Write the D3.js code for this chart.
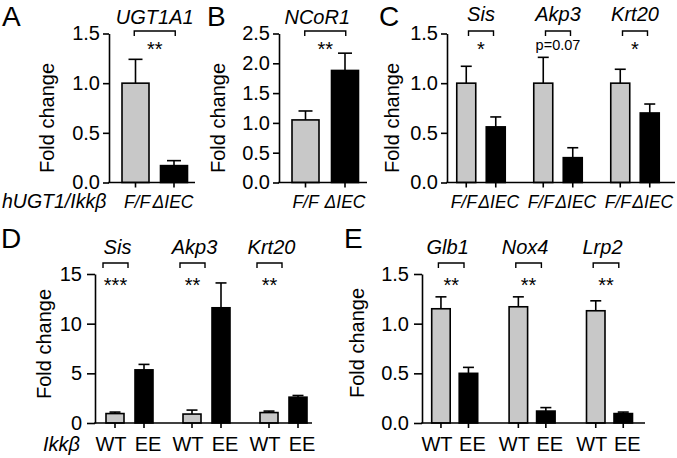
<!DOCTYPE html>
<html><head><meta charset="utf-8">
<script src="https://cdn.jsdelivr.net/npm/d3@7"></script>
<style>
body{margin:0;background:#fff}
svg{display:block}
text{font-family:"Liberation Sans",Arial,Helvetica,sans-serif;fill:#000}
</style>
</head><body>
<svg id="chart" width="677" height="458"></svg>
<script>
// ---------- DATA ----------
// Panel A
const panelAGenes = ["UGT1A1"];
const panelAGroups = ["F/F", "ΔIEC"];
const panelAMeans = [[1.00, 0.17]];
const panelAErrors = [[0.24, 0.05]];
const panelASig = ["**"];
const panelATicks = [0, 0.5, 1.0, 1.5];

// Panel B
const panelBGenes = ["NCoR1"];
const panelBGroups = ["F/F", "ΔIEC"];
const panelBMeans = [[1.05, 1.88]];
const panelBErrors = [[0.15, 0.29]];
const panelBSig = ["**"];
const panelBTicks = [0, 0.5, 1.0, 1.5, 2.0, 2.5];

// Panel C
const panelCGenes = ["Sis", "Akp3", "Krt20"];
const panelCGroups = ["F/F", "ΔIEC"];
const panelCMeans = [[1.00, 0.56], [1.00, 0.25], [1.00, 0.70]];
const panelCErrors = [[0.17, 0.10], [0.26, 0.10], [0.14, 0.09]];
const panelCSig = ["*", "p=0.07", "*"];
const panelCTicks = [0, 0.5, 1.0, 1.5];

// Panel D
const panelDGenes = ["Sis", "Akp3", "Krt20"];
const panelDGroups = ["WT", "EE"];
const panelDMeans = [[0.95, 5.35], [0.90, 11.6], [1.05, 2.60]];
const panelDErrors = [[0.15, 0.55], [0.40, 2.50], [0.15, 0.17]];
const panelDSig = ["***", "**", "**"];
const panelDTicks = [0, 5, 10, 15];

// Panel E
const panelEGenes = ["Glb1", "Nox4", "Lrp2"];
const panelEGroups = ["WT", "EE"];
const panelEMeans = [[1.15, 0.50], [1.17, 0.12], [1.13, 0.095]];
const panelEErrors = [[0.12, 0.06], [0.10, 0.035], [0.10, 0.015]];
const panelESig = ["**", "**", "**"];
const panelETicks = [0, 0.5, 1.0, 1.5];

const rowLabelTop = "hUGT1/Ikkβ";
const rowLabelBottom = "Ikkβ";
const yTitle = "Fold change";

// ---------- DRAW ----------
const svg = d3.select("#chart");
const FILLS = ["#c8c8c8", "#000000"];
const SW = 1.6;

function drawPanel(p) {
  const g = svg.append("g");
  const y = d3.scaleLinear().domain([0, p.yMax]).range([p.y0, p.yTop]);
  const x = d3.scaleBand().domain(p.genes).range([p.start, p.start + p.step * p.genes.length]);
  const sub = d3.scalePoint().domain(p.groups).range([-p.off, p.off]);
  const gc = gene => x(gene) + x.bandwidth() / 2;
  const cx = (gene, grp) => gc(gene) + sub(grp);

  const items = [];
  p.genes.forEach((gene, i) => p.groups.forEach((grp, j) => {
    items.push({gene, grp, j, m: p.means[i][j], e: p.errors[i][j]});
  }));

  // error bars
  const eb = g.append("g").attr("stroke", "#000").attr("stroke-width", SW).attr("fill", "none");
  items.forEach(d => {
    const xc = cx(d.gene, d.grp);
    eb.append("line").attr("x1", xc).attr("x2", xc).attr("y1", y(d.m)).attr("y2", y(d.m + d.e));
    eb.append("line").attr("x1", xc - p.cap / 2).attr("x2", xc + p.cap / 2)
      .attr("y1", y(d.m + d.e)).attr("y2", y(d.m + d.e));
  });

  // bars
  g.append("g").selectAll("rect").data(items).join("rect")
    .attr("x", d => cx(d.gene, d.grp) - p.barW / 2)
    .attr("y", d => y(d.m))
    .attr("width", p.barW)
    .attr("height", d => p.y0 - y(d.m))
    .attr("fill", d => FILLS[d.j])
    .attr("stroke", "#000").attr("stroke-width", SW);

  // y axis
  const ya = g.append("g").attr("transform", `translate(${p.axisX},0)`)
    .call(d3.axisLeft(y).tickValues(p.ticks).tickFormat(d3.format(p.fmt))
      .tickSize(p.tick).tickPadding(p.pad).tickSizeOuter(0));
  ya.selectAll("path,line").attr("stroke", "#000").attr("stroke-width", SW);
  ya.selectAll("text").attr("font-size", p.tickFont)
    .attr("font-family", '"Liberation Sans",Arial,sans-serif').attr("fill", "#000");

  // x axis line and ticks
  g.append("line").attr("x1", p.axisX - SW / 2).attr("x2", p.xEnd).attr("y1", p.y0).attr("y2", p.y0)
    .attr("stroke", "#000").attr("stroke-width", SW);
  items.forEach(d => {
    const xc = cx(d.gene, d.grp);
    g.append("line").attr("x1", xc).attr("x2", xc).attr("y1", p.y0).attr("y2", p.y0 + 5)
      .attr("stroke", "#000").attr("stroke-width", SW);
    g.append("text").attr("x", xc + p.labelShift[d.j]).attr("y", p.labelY).attr("text-anchor", "middle")
      .attr("font-size", p.labelFont).attr("font-style", p.labelItalic ? "italic" : "normal")
      .text(d.grp);
  });

  // gene titles, brackets, significance
  p.genes.forEach((gene, i) => {
    g.append("text").attr("x", gc(gene) + p.titleShift).attr("y", p.titleY)
      .attr("text-anchor", "middle").attr("font-size", p.titleFont).attr("font-style", "italic")
      .text(gene);
    const bc = gc(gene) + p.brShift;
    g.append("path")
      .attr("d", `M${bc - p.brHalf},${p.brY + 5}V${p.brY}H${bc + p.brHalf}V${p.brY + 5}`)
      .attr("fill", "none").attr("stroke", "#000").attr("stroke-width", 1.4);
    const s = p.sig[i];
    const isStar = /^\*+$/.test(s);
    g.append("text").attr("x", bc).attr("y", isStar ? p.starY : p.pY)
      .attr("text-anchor", "middle").attr("font-size", isStar ? p.starFont : 14.5)
      .text(s);
  });

  // panel letter
  g.append("text").attr("x", p.letterX).attr("y", p.letterY).attr("font-size", 28).text(p.letter);
  // y title
  g.append("text").attr("transform", `translate(${p.ytX},${p.ytY}) rotate(-90)`)
    .attr("text-anchor", "middle").attr("font-size", 20).text(yTitle);
  if (p.rowLabel) {
    g.append("text").attr("x", p.rowLabel.x).attr("y", p.labelY).attr("text-anchor", p.rowLabel.anchor)
      .attr("font-size", p.rowLabel.size).attr("font-style", "italic").text(p.rowLabel.text);
  }
}

const topRow = {y0: 182.5, yTop: 33.5, titleY: 24, titleFont: 20, brY: 31, starY: 56, pY: 50,
  starFont: 20, labelY: 208, labelFont: 17.5, labelItalic: true, tick: 6, pad: 3, tickFont: 20,
  letterY: 26, labelShift: [0, 0]};
const botRow = {y0: 423, yTop: 274, titleY: 254, titleFont: 20, brY: 263, starY: 292, pY: 285,
  starFont: 20, labelY: 451, labelFont: 20, labelItalic: false, tick: 8, pad: 5, tickFont: 20,
  letterY: 248, labelShift: [-4, 4]};

drawPanel(Object.assign({}, topRow, {
  letter: "A", letterX: 2, genes: panelAGenes, groups: panelAGroups, means: panelAMeans,
  errors: panelAErrors, sig: panelASig, ticks: panelATicks, yMax: 1.5, fmt: ".1f",
  axisX: 109, xEnd: 195, start: 116.25, step: 77, off: 19.25, barW: 27, cap: 14,
  titleShift: 0, brShift: 0, brHalf: 20.5, ytX: 54, ytY: 118, labelShift: [1.5, -1],
  rowLabel: {text: rowLabelTop, x: 2, anchor: "start", size: 19.5}
}));

drawPanel(Object.assign({}, topRow, {
  letter: "B", letterX: 207, genes: panelBGenes, groups: panelBGroups, means: panelBMeans,
  errors: panelBErrors, sig: panelBSig, ticks: panelBTicks, yMax: 2.5, fmt: ".1f",
  axisX: 279, xEnd: 367, start: 286.75, step: 77, off: 19.75, barW: 27, cap: 14,
  titleShift: -8, brShift: 0, brHalf: 20.5, ytX: 225, ytY: 118
}));

drawPanel(Object.assign({}, topRow, {
  letter: "C", letterX: 379, titleY: 21, genes: panelCGenes, groups: panelCGroups, means: panelCMeans,
  errors: panelCErrors, sig: panelCSig, ticks: panelCTicks, yMax: 1.5, fmt: ".1f",
  axisX: 447, xEnd: 675, start: 442.5, step: 77, off: 14.75, barW: 19, cap: 11,
  titleShift: 0, brShift: 0, brHalf: 12.5, ytX: 399, ytY: 118, labelShift: [-2.5, 3]
}));

drawPanel(Object.assign({}, botRow, {
  letter: "D", letterX: 1, genes: panelDGenes, groups: panelDGroups, means: panelDMeans,
  errors: panelDErrors, sig: panelDSig, ticks: panelDTicks, yMax: 15, fmt: "d",
  axisX: 95, xEnd: 312, start: 91, step: 77, off: 14.5, barW: 18, cap: 11,
  titleShift: -12, brShift: -14, brHalf: 12.5, ytX: 51, ytY: 344,
  rowLabel: {text: rowLabelBottom, x: 80, anchor: "end", size: 20}
}));

drawPanel(Object.assign({}, botRow, {
  letter: "E", letterX: 344, genes: panelEGenes, groups: panelEGroups, means: panelEMeans,
  errors: panelEErrors, sig: panelESig, ticks: panelETicks, yMax: 1.5, fmt: ".1f",
  axisX: 422, xEnd: 645, start: 416, step: 77.4, off: 13.75, barW: 18.5, cap: 11,
  titleShift: -7, brShift: -3.5, brHalf: 12.8, ytX: 364, ytY: 343
}));
</script>
</body></html>
